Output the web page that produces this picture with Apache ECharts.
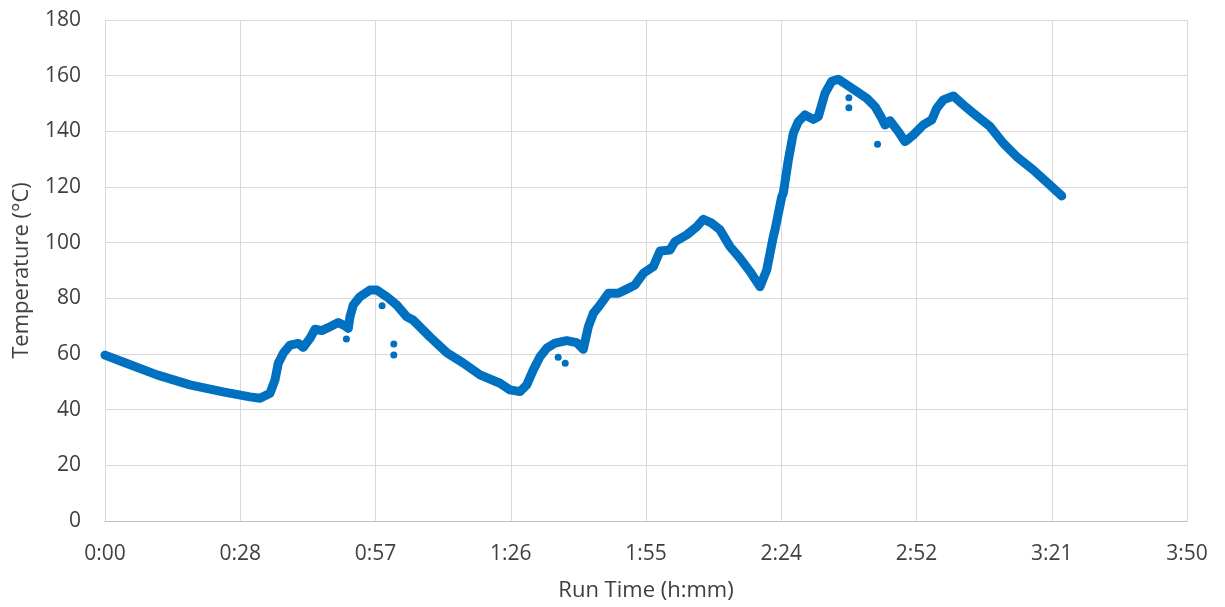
<!DOCTYPE html>
<html>
<head>
<meta charset="utf-8">
<script src="https://cdn.jsdelivr.net/npm/echarts@6/dist/echarts.min.js"></script>
<style>
html,body{margin:0;padding:0;background:#fff;}
#chart{width:1225px;height:607px;}
</style>
</head>
<body>
<div id="chart"></div>
<script>
// Run time in minutes
const runTime = [0.0,3.83,11.07,18.10,25.13,30.88,33.01,35.14,36.20,36.90,37.97,39.40,41.16,42.23,43.65,44.72,46.15,47.91,49.68,51.11,51.81,52.17,52.87,54.30,56.43,57.86,59.99,62.12,64.25,65.6,69.21,72.83,76.24,79.86,84.11,86.24,88.37,89.80,91.20,92.63,94.06,95.83,98.32,100.45,101.85,102.92,103.98,105.41,107.18,109.31,111.09,112.86,114.63,116.76,118.19,120.32,121.38,123.87,126.00,127.41,129.19,130.96,133.09,135.22,137.35,139.48,140.91,142.31,142.67,144.10,144.44,145.51,146.57,147.64,149.06,150.83,151.90,153.32,154.75,156.15,157.94,160.07,162.20,163.97,165.40,166.10,167.16,168.93,170.36,172.12,174.25,176.04,177.11,178.51,180.64,182.77,184.90,188.46,191.29,194.14,197.68,201.23,203.73];
// Temperature in °C
const temperature = [59.6,57.1,52.5,48.9,46.4,44.6,44.1,45.9,50.7,56.7,60.3,63.2,63.8,62.4,65.6,68.9,68.4,69.8,71.3,70.1,69.2,73.4,77.6,80.6,83.0,83.0,80.6,77.6,73.4,72.2,66.1,60.4,56.8,52.5,49.5,47.1,46.5,48.9,54.3,59.0,62.1,63.9,64.8,64.1,61.7,69.8,74.6,77.6,81.8,81.8,83.3,84.8,89.0,91.4,97.0,97.4,100.4,102.8,105.7,108.4,107.0,104.6,98.6,94.4,89.6,84.2,90.2,102.2,104.6,116.5,117.8,129.7,139.3,143.5,145.9,144.3,145.3,153.7,158.0,158.7,156.7,154.3,151.9,148.9,144.7,142.3,143.8,139.9,136.3,138.7,142.3,144.1,148.3,151.3,152.7,149.5,146.5,141.7,135.7,130.9,126.1,120.7,116.8];
// Stray readings
const outlierTime = [51.4,59.0,61.5,61.5,96.5,98.0,158.4,158.4,164.5];
const outlierTemp = [65.4,77.3,63.6,59.6,58.8,56.7,152.1,148.5,135.4];
const xTickLabels = ['0:00','0:28','0:57','1:26','1:55','2:24','2:52','3:21','3:50'];
const yTicks = [0,20,40,60,80,100,120,140,160,180];

const xStep = 28.8;
const mainData = runTime.map((t,i)=>[t,temperature[i]]);
const outData = outlierTime.map((t,i)=>[t,outlierTemp[i]]);
const blue = '#0070C0';
const font = '"Open Sans", "Liberation Sans", sans-serif';

const chart = echarts.init(document.getElementById('chart'));
chart.setOption({
  animation:false,
  backgroundColor:'#ffffff',
  grid:{left:105,right:38,top:20,bottom:86,containLabel:false},
  xAxis:{
    type:'value',min:0,max:xStep*(xTickLabels.length-1),interval:xStep,
    name:'Run Time (h:mm)',nameLocation:'middle',nameGap:59,
    nameTextStyle:{fontFamily:font,fontSize:22,color:'#404040'},
    axisLine:{show:true,lineStyle:{color:'#bfbfbf',width:1}},
    axisTick:{show:false},
    axisLabel:{fontFamily:font,fontSize:21,color:'#404040',margin:23,
      formatter:(v)=>xTickLabels[Math.round(v/xStep)]},
    splitLine:{show:true,lineStyle:{color:'#d9d9d9',width:1}}
  },
  yAxis:{
    type:'value',min:yTicks[0],max:yTicks[yTicks.length-1],interval:yTicks[1]-yTicks[0],
    name:'Temperature (°C)',nameLocation:'middle',nameGap:72,
    nameTextStyle:{fontFamily:font,fontSize:22,color:'#404040'},
    axisLine:{show:true,lineStyle:{color:'#d9d9d9',width:1}},
    axisTick:{show:false},
    axisLabel:{fontFamily:font,fontSize:21,color:'#404040',margin:24},
    splitLine:{show:true,lineStyle:{color:'#d9d9d9',width:1}}
  },
  series:[
    {type:'line',data:mainData,showSymbol:false,smooth:false,
      lineStyle:{color:blue,width:9,cap:'round',join:'round'},z:3},
    {type:'scatter',data:outData,symbolSize:7,itemStyle:{color:blue,opacity:1},z:3}
  ]
});
</script>
</body>
</html>
